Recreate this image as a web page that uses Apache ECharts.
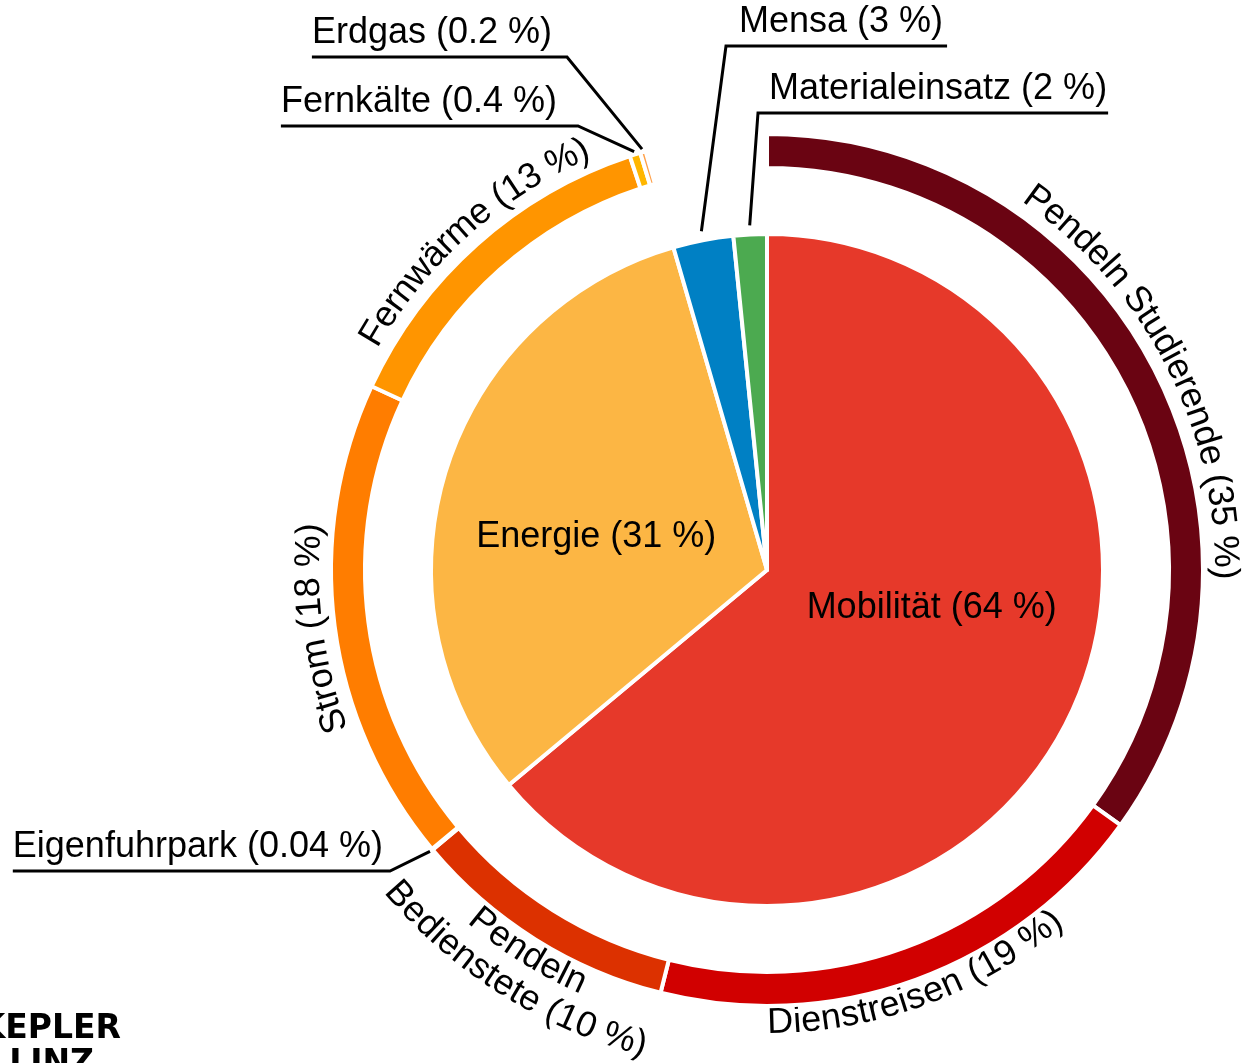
<!DOCTYPE html>
<html>
<head>
<meta charset="utf-8">
<script src="https://cdn.jsdelivr.net/npm/echarts@6/dist/echarts.min.js"></script>
<style>
html,body{margin:0;padding:0;background:#fff;}
#chart{width:1245px;height:1063px;}
</style>
</head>
<body>
<div id="chart"></div>
<script>
// ---------------- data ----------------
const innerNames  = ['Mobilität', 'Energie', 'Mensa', 'Materialeinsatz'];
const innerValues = [64.04, 31.6, 2.9, 1.6];
const innerLabels = ['Mobilität (64 %)', 'Energie (31 %)', 'Mensa (3 %)', 'Materialeinsatz (2 %)'];

const outerNames   = ['Pendeln Studierende', 'Dienstreisen', 'Pendeln Bedienstete', 'Eigenfuhrpark', 'Strom', 'Fernwärme', 'Fernkälte', 'Erdgas'];
const outerParents = ['Mobilität', 'Mobilität', 'Mobilität', 'Mobilität', 'Energie', 'Energie', 'Energie', 'Energie'];
const outerValues  = [35, 19, 10, 0.04, 18, 13, 0.4, 0.2];
const outerLabels  = ['Pendeln Studierende (35 %)', 'Dienstreisen (19 %)', 'Pendeln\nBedienstete (10 %)', 'Eigenfuhrpark (0.04 %)', 'Strom (18 %)', 'Fernwärme (13 %)', 'Fernkälte (0.4 %)', 'Erdgas (0.2 %)'];

const logoLines = ['JOHANNES KEPLER', 'UNIVERSITÄT LINZ'];

// ---------------- styles / layout ----------------
const CX = 767, CY = 570;
const R_PIE = 336;
const R_RING = [402, 436];
const FONT_FAMILY = '"Liberation Sans", Arial, sans-serif';
const FONT_SIZE = 36;
const FONT = FONT_SIZE + 'px ' + FONT_FAMILY;

const innerColors = ['#E6392A', '#FCB644', '#0080C4', '#4CAA50'];
const outerColors = ['#6A0412', '#D10000', '#DC3100', '#E04A00', '#FF7D00', '#FF9500', '#FFB600', '#FFA048'];

const innerLabelPos = { 'Mobilität': [103, 169], 'Energie': [281, 174] }; // [angle, radius]
const leaderSpec = {
  'Mensa':           { side: 'right', elbow: [726, 46],  pad: 13, ext: 4 },
  'Materialeinsatz': { side: 'right', elbow: [758, 113], pad: 11, ext: 1 },
  'Erdgas':          { side: 'left',  elbow: [567, 57],  pad: 15 },
  'Fernkälte':       { side: 'left',  elbow: [578, 126], pad: 21 },
  'Eigenfuhrpark':   { side: 'left',  elbow: [390, 871], pad: 7 }
};
const arcSpec = {
  'Pendeln Studierende': { dir: 'out', r: 458 },
  'Dienstreisen':        { dir: 'in',  r: 453 },
  'Pendeln Bedienstete': { dir: 'in',  r: 453 },
  'Strom':               { dir: 'out', r: 458 },
  'Fernwärme':           { dir: 'out', r: 458 }
};
const LINE_H = 38;

// ---------------- helpers ----------------
const sum = a => a.reduce((s, v) => s + v, 0);
const total = sum(innerValues);
const gapValue = total - sum(outerValues);
function midAngles(values) {
  let acc = 0;
  return values.map(v => { const a = (acc + v / 2) / total * 360; acc += v; return a; });
}
const innerMid = midAngles(innerValues);
const outerMid = midAngles(outerValues);
function pt(angleDeg, r) {
  const a = angleDeg * Math.PI / 180;
  return [CX + r * Math.sin(a), CY - r * Math.cos(a)];
}
const measureCtx = document.createElement('canvas').getContext('2d');
measureCtx.font = FONT;
const measure = s => measureCtx.measureText(s).width;

function leaderLayout(name, angle, rStart, w) {
  const s = leaderSpec[name];
  const start = pt(angle, rStart);
  const ex = s.elbow[0], ey = s.elbow[1];
  const ty = ey - 23.5;
  if (s.side === 'left') {
    const tr = ex - s.pad;
    return { x: tr, y: ty, align: 'right', verticalAlign: 'middle',
             labelLinePoints: [start, [ex, ey], [tr - w, ey]] };
  }
  const tl = ex + s.pad;
  return { x: tl, y: ty, align: 'left', verticalAlign: 'middle',
           labelLinePoints: [start, [ex, ey], [tl + w + s.ext, ey]] };
}

const labelText = { color: '#000', fontSize: FONT_SIZE, fontFamily: FONT_FAMILY };
const leaderLine = { show: true, smooth: false, length: 20, length2: 20, lineStyle: { color: '#000', width: 3 } };

// ---------------- series data ----------------
const innerData = innerNames.map((n, i) => {
  const inside = !!innerLabelPos[n];
  return {
    name: n, value: innerValues[i],
    itemStyle: { color: innerColors[i] },
    label: { show: true, position: inside ? 'inside' : 'outside' },
    labelLine: inside ? { show: false } : leaderLine
  };
});

const outerData = outerNames.map((n, i) => {
  const hasLeader = !!leaderSpec[n];
  return {
    name: n, value: outerValues[i],
    itemStyle: { color: outerColors[i] },
    label: { show: hasLeader, position: 'outside' },
    labelLine: hasLeader ? leaderLine : { show: false }
  };
});
outerData.push({
  name: '', value: gapValue,
  itemStyle: { color: 'rgba(0,0,0,0)', borderWidth: 0 },
  label: { show: false }, labelLine: { show: false }
});

const arcIdx = outerNames.map((n, i) => i).filter(i => arcSpec[outerNames[i]]);

const chart = echarts.init(document.getElementById('chart'), null, { renderer: 'canvas' });
chart.setOption({
  animation: false,
  backgroundColor: '#fff',
  series: [
    {
      type: 'pie',
      center: [CX, CY],
      radius: [0, R_PIE],
      startAngle: 90,
      clockwise: true,
      avoidLabelOverlap: false,
      silent: true,
      itemStyle: { borderColor: '#fff', borderWidth: 4 },
      label: Object.assign({ formatter: p => innerLabels[p.dataIndex] }, labelText),
      labelLayout: function (p) {
        const name = innerNames[p.dataIndex];
        if (innerLabelPos[name]) {
          const xy = pt(innerLabelPos[name][0], innerLabelPos[name][1]);
          return { x: xy[0], y: xy[1], align: 'center', verticalAlign: 'middle' };
        }
        return leaderLayout(name, innerMid[p.dataIndex], R_PIE - 2 + 11, p.labelRect.width);
      },
      data: innerData
    },
    {
      type: 'pie',
      center: [CX, CY],
      radius: R_RING,
      startAngle: 90,
      clockwise: true,
      avoidLabelOverlap: false,
      silent: true,
      itemStyle: { borderColor: '#fff', borderWidth: 4 },
      label: Object.assign({ show: false, formatter: p => outerLabels[p.dataIndex] }, labelText),
      labelLayout: function (p) {
        const name = outerNames[p.dataIndex];
        if (!leaderSpec[name]) return {};
        return leaderLayout(name, outerMid[p.dataIndex], R_RING[1] - 2 + 5, p.labelRect.width);
      },
      data: outerData
    },
    {
      type: 'custom',
      coordinateSystem: 'none',
      silent: true,
      data: arcIdx.map(i => [i]),
      renderItem: function (params, api) {
        const i = api.value(0);
        const spec = arcSpec[outerNames[i]];
        const lines = outerLabels[i].split('\n');
        const children = [];
        lines.forEach((line, li) => {
          const R = spec.dir === 'in' ? spec.r + li * LINE_H : spec.r - li * LINE_H;
          const chars = Array.from(line);
          const widths = chars.map(measure);
          const W = sum(widths);
          let acc = 0;
          chars.forEach((c, k) => {
            const off = (acc + widths[k] / 2 - W / 2) / R * 180 / Math.PI;
            acc += widths[k];
            const a = spec.dir === 'out' ? outerMid[i] + off : outerMid[i] - off;
            const xy = pt(a, R);
            const rot = spec.dir === 'out' ? -a * Math.PI / 180 : Math.PI - a * Math.PI / 180;
            children.push({
              type: 'text', x: xy[0], y: xy[1], rotation: rot,
              style: { text: c, fill: '#000', font: FONT, align: 'center', verticalAlign: 'middle' }
            });
          });
        });
        return { type: 'group', children: children };
      }
    }
  ],
  graphic: [
    { type: 'text', x: 121, y: 1029, silent: true,
      style: { text: logoLines[0], fill: '#000', font: 'bold 33px "DejaVu Sans", sans-serif', align: 'right', verticalAlign: 'middle' } },
    { type: 'text', x: 94, y: 1064, silent: true,
      style: { text: logoLines[1], fill: '#000', font: 'bold 33px "DejaVu Sans", sans-serif', align: 'right', verticalAlign: 'middle' } }
  ]
});
</script>
</body>
</html>
